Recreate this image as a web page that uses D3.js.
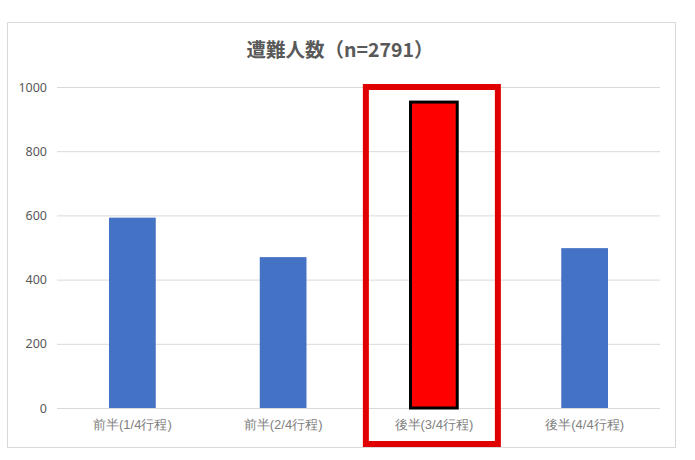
<!DOCTYPE html>
<html>
<head>
<meta charset="utf-8">
<script src="https://cdn.jsdelivr.net/npm/d3@7"></script>
<style>
  body { margin: 0; background: #fff; }
  svg { font-family: "Noto Sans CJK JP", "Noto Sans", sans-serif; }
</style>
</head>
<body>
<div class="graph"></div>
<script>
var categories = ["前半(1/4行程)", "前半(2/4行程)", "後半(3/4行程)", "後半(4/4行程)"];
var values = [593, 470, 953, 498];
var highlight = [false, false, true, false];
var yTicks = [0, 200, 400, 600, 800, 1000];
var title = "遭難人数（n=2791）";

var width = 695;
var height = 460;
var plot = {left: 57, right: 660, top: 87, bottom: 408};

var svg = d3.select(".graph").append("svg")
  .attr("width", width)
  .attr("height", height);

// chart frame
svg.append("rect")
  .attr("x", 7.5).attr("y", 22.5)
  .attr("width", 668).attr("height", 425)
  .attr("fill", "#fff")
  .attr("stroke", "#d9d9d9");

svg.append("text")
  .attr("x", 340).attr("y", 57)
  .attr("text-anchor", "middle")
  .attr("font-size", 19.5)
  .attr("font-weight", "bold")
  .attr("fill", "#595959")
  .text(title);

var x = d3.scaleBand()
  .domain(categories)
  .range([plot.left, plot.right])
  .paddingInner(0.69)
  .paddingOuter(0.345);

var y = d3.scaleLinear()
  .domain([0, 1000])
  .range([plot.bottom, plot.top]);

// gridlines + y labels
var yAxis = d3.axisLeft(y)
  .tickValues(yTicks)
  .tickFormat(d3.format("d"))
  .tickSize(-(plot.right - plot.left))
  .tickPadding(10);

var yg = svg.append("g")
  .attr("transform", "translate(" + plot.left + ",0)")
  .call(yAxis);
yg.select(".domain").remove();
yg.selectAll(".tick line").attr("stroke", "#d9d9d9");
yg.selectAll(".tick text")
  .attr("fill", "#595959")
  .attr("font-size", 12.5)
  .attr("font-family", "\"Noto Sans\", sans-serif");

// x labels
var xAxis = d3.axisBottom(x).tickSize(0).tickPadding(12);
var xg = svg.append("g")
  .attr("transform", "translate(0," + plot.bottom + ")")
  .call(xAxis);
xg.select(".domain").remove();
xg.selectAll(".tick text")
  .attr("fill", "#7f7f7f")
  .attr("font-size", 13);

// bars
svg.selectAll(".bar")
  .data(values)
  .enter().append("rect")
  .attr("class", "bar")
  .attr("x", (d, i) => x(categories[i]))
  .attr("width", x.bandwidth())
  .attr("y", d => y(d))
  .attr("height", d => y(0) - y(d))
  .attr("fill", (d, i) => highlight[i] ? "#ff0000" : "#4472c4")
  .attr("stroke", (d, i) => highlight[i] ? "#000" : "none")
  .attr("stroke-width", 3);

// red highlight box around the third category
var hi = categories[highlight.indexOf(true)];
var cx = x(hi) + x.bandwidth() / 2;
svg.append("rect")
  .attr("x", cx - 68).attr("y", 87)
  .attr("width", 132).attr("height", 357)
  .attr("fill", "none")
  .attr("stroke", "#e00000")
  .attr("stroke-width", 6);
</script>
</body>
</html>
